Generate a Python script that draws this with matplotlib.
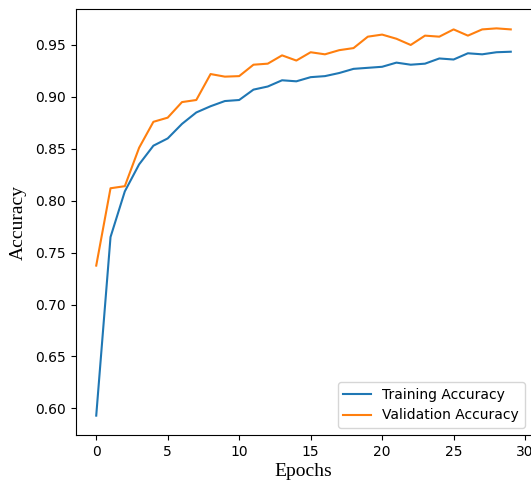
import numpy as np
import matplotlib
matplotlib.use('Agg')
import matplotlib.pyplot as plt

epochs = list(range(30))
train_acc = [0.593, 0.765, 0.809, 0.835, 0.853, 0.860, 0.874, 0.885, 0.891, 0.896,
             0.897, 0.907, 0.910, 0.916, 0.915, 0.919, 0.920, 0.923, 0.927, 0.928,
             0.929, 0.933, 0.931, 0.932, 0.937, 0.936, 0.942, 0.941, 0.943, 0.9435]
val_acc = [0.7375, 0.812, 0.814, 0.851, 0.876, 0.880, 0.895, 0.897, 0.922, 0.9195,
           0.920, 0.931, 0.932, 0.940, 0.935, 0.943, 0.941, 0.945, 0.947, 0.958,
           0.960, 0.956, 0.950, 0.959, 0.958, 0.965, 0.959, 0.965, 0.966, 0.965]

W, H = 531, 482
fig = plt.figure(figsize=(W / 100, H / 100), dpi=100)
ax = fig.add_axes([75.5 / W, (H - 435) / H, 456 / W, 426 / H])

ax.plot(epochs, train_acc, label='Training Accuracy')
ax.plot(epochs, val_acc, label='Validation Accuracy')
ax.set_xlabel('Epochs', fontsize=14, family='Liberation Serif', labelpad=3)
ax.set_ylabel('Accuracy', fontsize=14, family='Liberation Serif', labelpad=6)
ax.legend(loc='lower right')

fig.savefig('out.png', dpi=100)
